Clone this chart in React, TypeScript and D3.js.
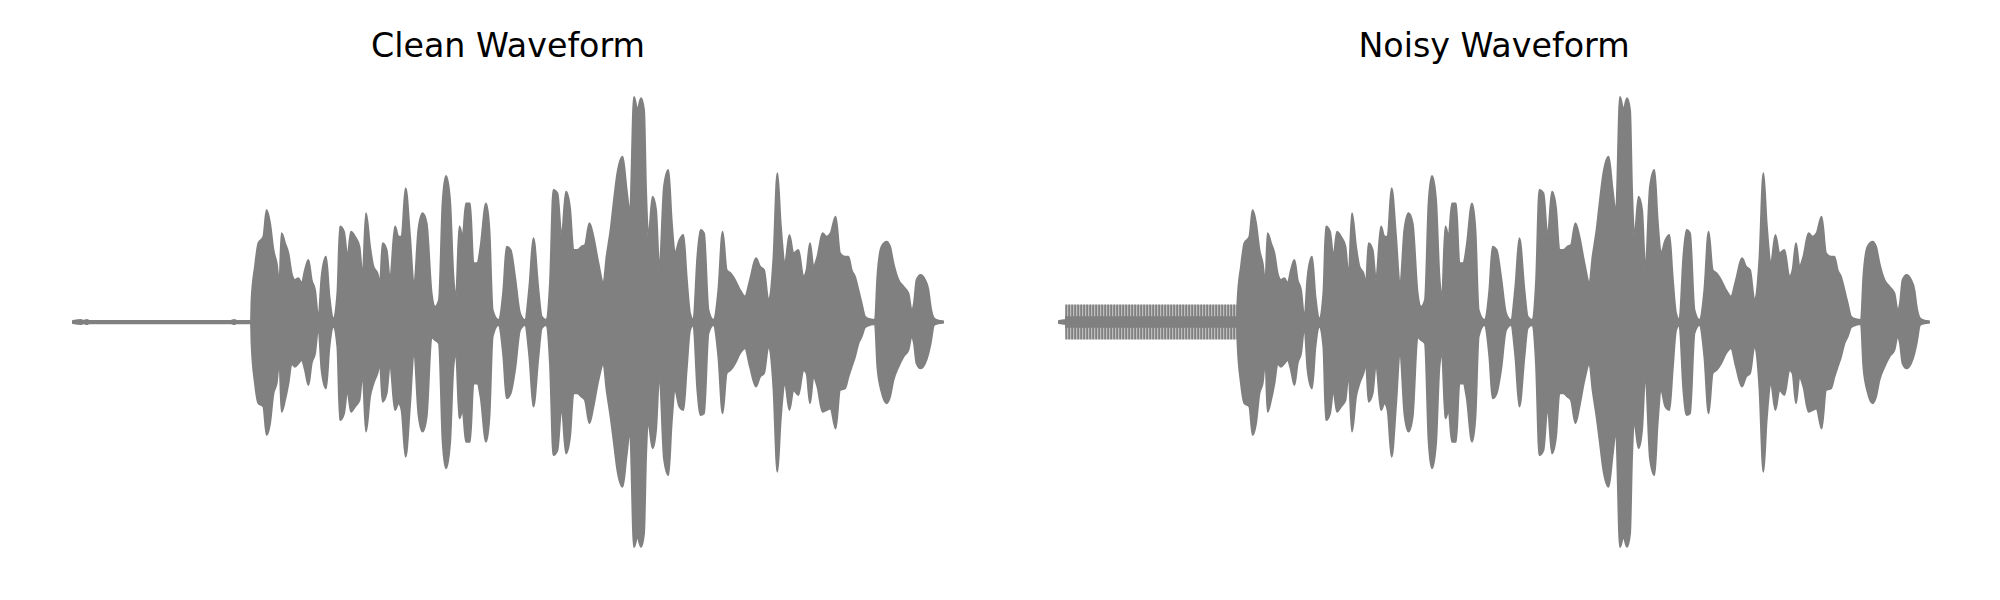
import { useEffect, useRef } from 'react';
import * as d3 from 'd3';

// envelope of the speech signal (seconds, normalised amplitude)
const envTime = [
  0, 0.04, 0.05, 0.07, 0.08, 0.79, 0.805, 0.82, 0.89, 0.893, 0.91, 0.927, 0.952, 0.968, 0.985,
  1.002, 1.018, 1.032, 1.043, 1.06, 1.077, 1.093, 1.11, 1.127, 1.143, 1.16, 1.177, 1.193, 1.21, 1.227,
  1.243, 1.265, 1.282, 1.302, 1.322, 1.335, 1.355, 1.372, 1.39, 1.41, 1.432, 1.448, 1.465, 1.485,
  1.502, 1.522, 1.535, 1.548, 1.568, 1.585, 1.61, 1.627, 1.643, 1.663, 1.685, 1.705, 1.727, 1.748,
  1.768, 1.793, 1.81, 1.83, 1.848, 1.865, 1.885, 1.902, 1.915, 1.932, 1.948, 1.965, 1.985,
  2.002, 2.022, 2.038, 2.065, 2.082, 2.098, 2.127, 2.152, 2.168, 2.188, 2.21, 2.235, 2.26, 2.282,
  2.302, 2.327, 2.343, 2.365, 2.385, 2.402, 2.422, 2.443, 2.465, 2.485, 2.502, 2.522, 2.543, 2.56,
  2.582, 2.602, 2.627, 2.652, 2.668, 2.688, 2.705, 2.722, 2.748, 2.768, 2.785, 2.805, 2.822, 2.84,
  2.855, 2.865, 2.877, 2.898, 2.915, 2.932, 2.955, 2.977, 2.993, 3.01, 3.032, 3.052, 3.068, 3.085,
  3.102, 3.122, 3.138, 3.155, 3.177, 3.202, 3.227, 3.248, 3.268, 3.288, 3.31, 3.335, 3.36, 3.385,
  3.415, 3.435, 3.455, 3.477, 3.502, 3.522, 3.538, 3.56, 3.582, 3.602, 3.627, 3.652, 3.668, 3.685,
  3.702, 3.722, 3.748, 3.768, 3.788, 3.813, 3.835, 3.86, 3.877, 3.893, 3.91, 3.927, 3.943, 3.96,
  3.985, 4.01, 4.022, 4.043, 4.068, 4.085, 4.102, 4.127, 4.152, 4.177, 4.193, 4.205, 4.218, 4.238,
  4.26, 4.277, 4.288, 4.305, 4.327, 4.35,
];
const envUpper = [
  0.005, 0.009, 0.005, 0.009, 0.005, 0.005, 0.009, 0.005, 0.005, 0.098, 0.246, 0.35, 0.379, 0.498, 0.439,
  0.32, 0.261, 0.172, 0.394, 0.35, 0.305, 0.216, 0.187, 0.194, 0.172, 0.231, 0.276, 0.187, 0.142, 0.016,
  0.201, 0.29, 0.113, 0.016, 0.127, 0.424, 0.401, 0.29, 0.401, 0.379, 0.335, 0.201, 0.483, 0.335,
  0.246, 0.216, 0.172, 0.35, 0.32, 0.187, 0.424, 0.379, 0.379, 0.594, 0.379, 0.157, 0.409, 0.483,
  0.439, 0.127, 0.068, 0.098, 0.527, 0.649, 0.542, 0.201, 0.113, 0.424, 0.379, 0.527, 0.527,
  0.261, 0.261, 0.335, 0.527, 0.409, 0.053, 0.009, 0.142, 0.335, 0.32, 0.201, 0.039, 0.009, 0.157,
  0.372, 0.142, 0.024, 0.009, 0.172, 0.587, 0.572, 0.379, 0.579, 0.505, 0.32, 0.32, 0.335, 0.342,
  0.439, 0.379, 0.261, 0.172, 0.29, 0.409, 0.542, 0.661, 0.735, 0.587, 0.483, 1.0, 0.942, 0.994,
  0.942, 0.587, 0.379, 0.557, 0.498, 0.231, 0.601, 0.676, 0.453, 0.305, 0.364, 0.387, 0.201, 0.039,
  0.009, 0.29, 0.409, 0.394, 0.053, 0.009, 0.142, 0.401, 0.231, 0.216, 0.187, 0.142, 0.113, 0.187,
  0.283, 0.246, 0.231, 0.098, 0.276, 0.661, 0.439, 0.261, 0.387, 0.305, 0.32, 0.201, 0.231, 0.35,
  0.246, 0.29, 0.394, 0.379, 0.394, 0.468, 0.305, 0.29, 0.29, 0.231, 0.201, 0.142, 0.083, 0.024,
  0.012, 0.009, 0.201, 0.335, 0.357, 0.335, 0.261, 0.187, 0.157, 0.127, 0.053, 0.083, 0.187, 0.209,
  0.187, 0.142, 0.068, 0.016, 0.006, 0.003,
];
const envLower = [
  -0.005, -0.009, -0.005, -0.009, -0.005, -0.005, -0.009, -0.005, -0.005, -0.095, -0.273, -0.361, -0.376, -0.502, -0.45,
  -0.317, -0.273, -0.169, -0.399, -0.347, -0.273, -0.184, -0.199, -0.184, -0.169, -0.213, -0.28, -0.184, -0.139, -0.021,
  -0.213, -0.295, -0.11, -0.021, -0.11, -0.436, -0.406, -0.302, -0.399, -0.376, -0.347, -0.228, -0.487, -0.332,
  -0.273, -0.228, -0.184, -0.354, -0.317, -0.184, -0.391, -0.361, -0.391, -0.599, -0.369, -0.124, -0.406, -0.487,
  -0.421, -0.065, -0.08, -0.095, -0.524, -0.65, -0.539, -0.199, -0.139, -0.428, -0.391, -0.532, -0.532,
  -0.273, -0.273, -0.332, -0.532, -0.421, -0.065, -0.013, -0.154, -0.339, -0.317, -0.213, -0.036, -0.013, -0.154,
  -0.376, -0.154, -0.028, -0.013, -0.184, -0.591, -0.569, -0.376, -0.584, -0.51, -0.317, -0.317, -0.332, -0.347,
  -0.45, -0.376, -0.258, -0.184, -0.302, -0.421, -0.539, -0.658, -0.732, -0.591, -0.48, -1.0, -0.954, -0.999,
  -0.939, -0.599, -0.45, -0.561, -0.48, -0.228, -0.606, -0.68, -0.45, -0.302, -0.376, -0.391, -0.213, -0.036,
  -0.013, -0.302, -0.413, -0.406, -0.05, -0.013, -0.154, -0.406, -0.228, -0.213, -0.184, -0.139, -0.117, -0.199,
  -0.287, -0.243, -0.228, -0.11, -0.287, -0.665, -0.436, -0.273, -0.391, -0.302, -0.324, -0.213, -0.228, -0.361,
  -0.243, -0.287, -0.399, -0.391, -0.384, -0.473, -0.302, -0.295, -0.243, -0.199, -0.154, -0.095, -0.065, -0.024,
  -0.013, -0.009, -0.199, -0.31, -0.361, -0.332, -0.258, -0.199, -0.154, -0.124, -0.065, -0.095, -0.184, -0.206,
  -0.184, -0.139, -0.095, -0.013, -0.006, -0.003,
];

// added tone in the noisy version (visible only before speech starts)
const toneTime = [0, 0.03, 0.031, 0.889, 0.89];
const toneAmp = [0, 0, 0.078, 0.078, 0];
const tonePeriodSec = 0.015;

const panels = [
  { title: 'Clean Waveform', x0: 73, x1: 943, noisy: false },
  { title: 'Noisy Waveform', x0: 1059, x1: 1929, noisy: true },
];

const WIDTH = 2000;
const HEIGHT = 600;
const COLOR = '#808080';

export default function App() {
  const svgRef = useRef(null);

  useEffect(() => {
    const svg = d3.select(svgRef.current);
    svg.selectAll('*').remove();
    svg.append('rect').attr('width', WIDTH).attr('height', HEIGHT).attr('fill', '#fff');

    const env = envTime.map((t, i) => ({ t, hi: envUpper[i], lo: envLower[i] }));
    const tone = toneTime.map((t, i) => ({ t, a: toneAmp[i] }));
    const y = d3.scaleLinear().domain([-1, 1]).range([547, 97]);
    const defs = svg.append('defs');

    panels.forEach((p, idx) => {
      const x = d3.scaleLinear().domain([0, d3.max(envTime)]).range([p.x0, p.x1]);
      const g = svg.append('g');

      if (p.noisy) {
        const period = x(tonePeriodSec) - x(0);
        const pat = defs.append('pattern')
          .attr('id', `tone-${idx}`)
          .attr('patternUnits', 'userSpaceOnUse')
          .attr('x', x(0.031))
          .attr('width', period)
          .attr('height', HEIGHT);
        pat.append('rect').attr('width', period).attr('height', HEIGHT).attr('fill', '#d2d2d2');
        pat.append('rect').attr('width', period * 0.68).attr('height', HEIGHT).attr('fill', COLOR);

        const toneArea = d3.area()
          .x(d => x(d.t))
          .y0(d => y(-d.a))
          .y1(d => y(d.a));
        g.append('path').datum(tone).attr('d', toneArea).attr('fill', `url(#tone-${idx})`);
        // the dense middle of the tone where strokes overlap
        const coreArea = d3.area()
          .x(d => x(d.t))
          .y0(d => y(-d.a * 0.33))
          .y1(d => y(d.a * 0.33));
        g.append('path').datum(tone).attr('d', coreArea).attr('fill', COLOR);
      }

      const area = d3.area()
        .x(d => x(d.t))
        .y0(d => y(d.lo))
        .y1(d => y(d.hi))
        .curve(d3.curveMonotoneX);
      g.append('path')
        .datum(env)
        .attr('d', area)
        .attr('fill', COLOR)
        .attr('stroke', COLOR)
        .attr('stroke-width', 2)
        .attr('stroke-linejoin', 'round');

      svg.append('text')
        .attr('x', (p.x0 + p.x1) / 2)
        .attr('y', 57)
        .attr('text-anchor', 'middle')
        .style('font-family', 'DejaVu Sans')
        .style('font-size', '33.3px')
        .style('fill', '#000')
        .text(p.title);
    });
  }, []);

  return (
    <div style={{ position: 'absolute', left: 0, top: 0 }}>
      <svg ref={svgRef} width={WIDTH} height={HEIGHT} style={{ display: 'block' }} />
    </div>
  );
}
